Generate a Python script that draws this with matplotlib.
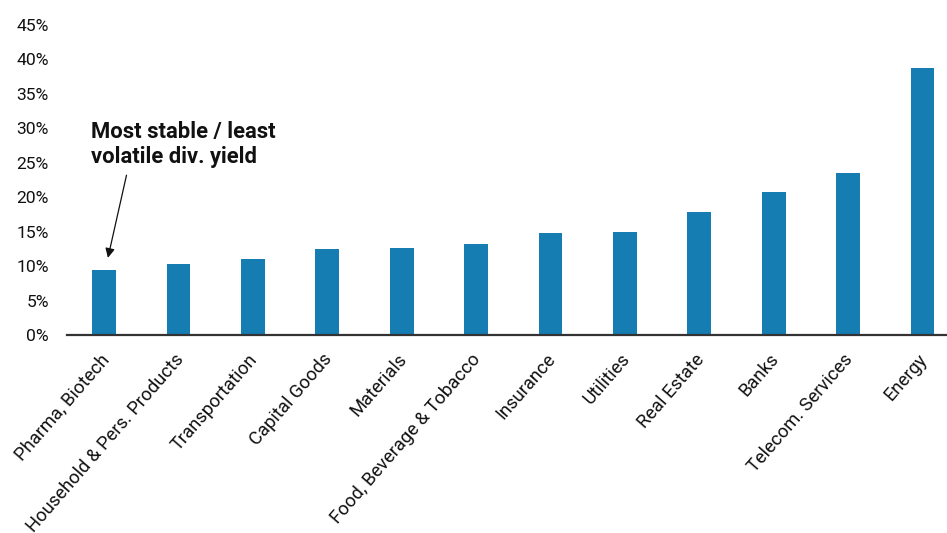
import matplotlib
matplotlib.use("Agg")
import matplotlib.pyplot as plt
import matplotlib.transforms as mtransforms
from matplotlib.ticker import FuncFormatter

categories = ["Pharma, Biotech", "Household & Pers. Products", "Transportation",
              "Capital Goods", "Materials", "Food, Beverage & Tobacco", "Insurance",
              "Utilities", "Real Estate", "Banks", "Telecom. Services", "Energy"]
values = [9.45, 10.3, 11.0, 12.5, 12.6, 13.2, 14.75, 15.0, 17.8, 20.8, 23.55, 38.8]
yticks = [0, 5, 10, 15, 20, 25, 30, 35, 40, 45]

plt.rcParams['font.family'] = ['Roboto', 'DejaVu Sans']

fig = plt.figure(figsize=(9.47, 5.33), dpi=100)
ax = fig.add_axes([67/947, 1-335/533, 1-67/947, (335-25)/533])

x = list(range(len(categories)))
ax.bar(x, values, width=0.32, color='#157db2', zorder=2)

ax.set_xlim(-0.5, len(categories) - 1 + 0.33)
ax.set_ylim(0, 45)
ax.set_yticks(yticks)
ax.yaxis.set_major_formatter(FuncFormatter(lambda v, p: f"{int(v)}%"))
ax.set_xticks(x)
ax.set_xticklabels(categories, rotation=49, ha='right', rotation_mode='anchor')
ax.tick_params(axis='y', length=0, labelsize=12.6, colors='#111111', pad=13)
ax.tick_params(axis='x', length=0, labelsize=13.2, colors='#111111', pad=11)

offset = mtransforms.ScaledTranslation(-5/100, 0, fig.dpi_scale_trans)
for lbl in ax.get_xticklabels():
    lbl.set_transform(lbl.get_transform() + offset)

for s in ['top', 'right', 'left']:
    ax.spines[s].set_visible(False)
ax.spines['bottom'].set_color('#333333')
ax.spines['bottom'].set_linewidth(1.6)
ax.spines['bottom'].set_zorder(3)

ax.text(-0.175, 31.0, "Most stable / least\nvolatile div. yield", fontsize=15.8,
        fontweight='bold', ha='left', va='top', linespacing=1.15, color='#111111')
ax.annotate("", xy=(0.05, 11.2), xytext=(0.30, 23.2),
            arrowprops=dict(arrowstyle='-|>', color='#111111', lw=0.9,
                            mutation_scale=14, shrinkA=0, shrinkB=0))

fig.savefig("out.png", dpi=100)
